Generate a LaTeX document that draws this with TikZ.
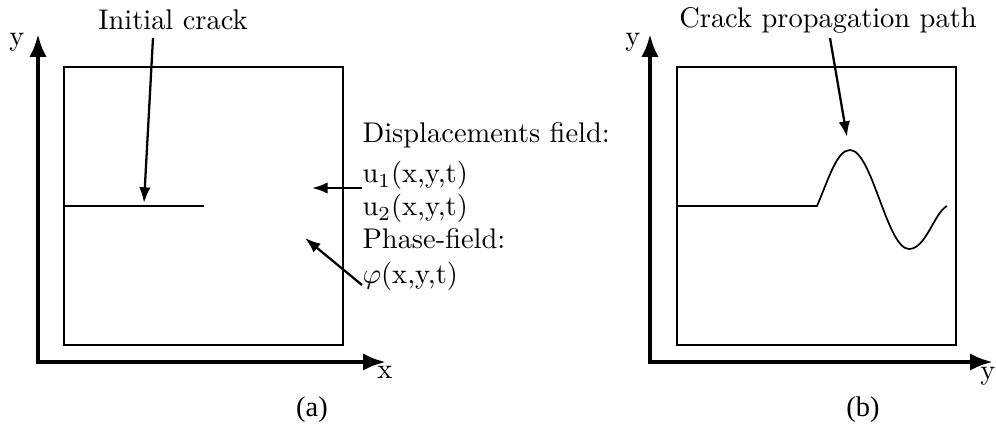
\documentclass[tikz,border=0pt]{standalone}
\usepackage{fontspec}
\newfontfamily\captfont{Liberation Serif}
\usepackage{tikz}
\usetikzlibrary{positioning,arrows.meta,calc}
\tikzset{
  axisline/.style={line width=1.4pt, -{Latex[length=8pt,width=6pt]}},
  domainbox/.style={line width=0.7pt},
  crackline/.style={line width=0.6pt},
  pointer/.style={line width=0.8pt, -{Latex[length=5.5pt,width=4pt]}},
  lbl/.style={inner sep=0pt, font=\normalsize},
  fieldtxt/.style={inner sep=0pt, anchor=base west},
  captlbl/.style={inner sep=0pt, font=\captfont}
}

\begin{document}
\begin{tikzpicture}[x=0.3515pt, y=-0.3515pt]
  \useasboundingbox (0,0) rectangle (996,430);

  % (a) initial configuration
  \coordinate (oa) at (38,362);
  \coordinate (yta) at (38,34);
  \coordinate (xta) at (386,362);
  \draw[axisline] (oa) -- (yta);
  \draw[axisline] ($(oa)+(-2,0)$) -- (xta);
  \node[lbl] (ylbla) at (17,42) {y};
  \node[lbl] (xlbla) at (385,372) {x};
  \draw[domainbox] (64,67) rectangle (343,345);
  \coordinate (cracktip) at (204,206);
  \draw[crackline] (64,206) -- (cracktip);

  \node[lbl] (initlbl) at (173,20) {Initial crack};
  \coordinate (crackpt) at (144,203);
  \draw[pointer] (153,38) -- (crackpt);

  \node[fieldtxt] (disp) at (362,143) {Displacements field:};
  \node[fieldtxt] (uone) at (362,183) {u$_1$(x,y,t)};
  \node[fieldtxt] (utwo) at (362,216) {u$_2$(x,y,t)};
  \node[fieldtxt] (phase) at (362,249) {Phase-field:};
  \node[fieldtxt] (phi) at (362,283) {$\varphi$(x,y,t)};
  \coordinate (uend) at (312,188);
  \coordinate (phiend) at (305,238);
  \draw[pointer] ($(uone.base west)+(0,5)$) -- (uend);
  \draw[pointer] ($(phi.base west)+(0,2)$) -- (phiend);

  \node[captlbl] (capa) at (312,410) {(a)};

  % (b) propagated crack
  \coordinate (ob) at (650,362);
  \coordinate (ytb) at (650,34);
  \coordinate (xtb) at (993,362);
  \draw[axisline] (ob) -- (ytb);
  \draw[axisline] ($(ob)+(-2,0)$) -- (xtb);
  \node[lbl] (ylblb) at (633,42) {y};
  \node[lbl] (xlblb) at (988,376) {y};
  \draw[domainbox] (677,67) rectangle (956,345);
  \coordinate (kink) at (817,206);
  \draw[crackline] (677,206) -- (kink)
    .. controls (829,178) and (837,150) .. (850,150)
    .. controls (872,150) and (887,249) .. (909,249)
    .. controls (926,249) and (934,213) .. (947,206);

  \node[lbl] (pathlbl) at (828,20) {Crack propagation path};
  \coordinate (peakpt) at (847,137);
  \draw[pointer] (830,38) -- (peakpt);

  \node[captlbl] (capb) at (863,410) {(b)};
\end{tikzpicture}
\end{document}
